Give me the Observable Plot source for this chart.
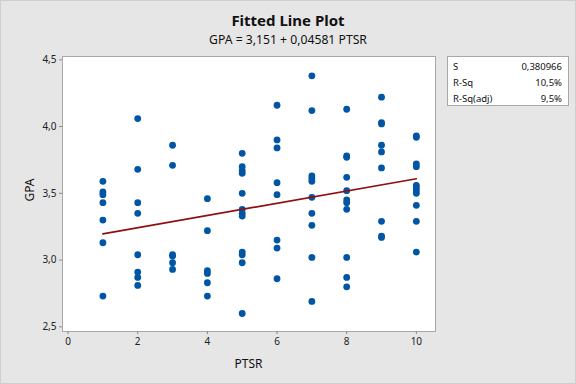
<!DOCTYPE html>
<html>
<head>
<meta charset="utf-8">
<script src="https://cdn.jsdelivr.net/npm/d3@7"></script>
<script src="https://cdn.jsdelivr.net/npm/@observablehq/plot@0.6"></script>
<style>
  html, body { margin: 0; padding: 0; background: #e6e6e6; }
  #chart { width: 576px; height: 384px; }
</style>
</head>
<body>
<div id="chart"></div>
<script>
// ---- Data ----
const ptsrLevels = [1, 2, 3, 4, 5, 6, 7, 8, 9, 10];
const gpaByPtsr = [
  [3.59, 3.51, 3.49, 3.43, 3.30, 3.13, 2.73],
  [4.06, 3.68, 3.43, 3.35, 3.04, 2.91, 2.87, 2.81],
  [3.86, 3.71, 3.04, 3.03, 2.98, 2.93],
  [3.46, 3.22, 2.92, 2.90, 2.83, 2.73],
  [3.80, 3.70, 3.67, 3.65, 3.50, 3.38, 3.35, 3.33, 3.06, 3.04, 2.98, 2.60],
  [4.16, 3.90, 3.84, 3.58, 3.49, 3.15, 3.09, 2.86],
  [4.38, 4.12, 3.63, 3.61, 3.59, 3.47, 3.35, 3.26, 3.02, 2.69],
  [4.13, 3.78, 3.77, 3.62, 3.52, 3.45, 3.43, 3.38, 3.02, 2.87, 2.80],
  [4.22, 4.03, 4.02, 3.86, 3.81, 3.69, 3.29, 3.18, 3.17],
  [3.93, 3.92, 3.72, 3.70, 3.56, 3.54, 3.52, 3.50, 3.41, 3.29, 3.06]
];
const fitIntercept = 3.151;
const fitSlope = 0.04581;
const fitRange = [1, 10];
const xTicks = [0, 2, 4, 6, 8, 10];
const yTicks = [2.5, 3.0, 3.5, 4.0, 4.5];
const titleText = "Fitted Line Plot";
const subtitleText = "GPA = 3,151 + 0,04581 PTSR";
const statLabels = ["S", "R-Sq", "R-Sq(adj)"];
const statValues = ["0,380966", "10,5%", "9,5%"];

// ---- Build tables ----
const points = [];
ptsrLevels.forEach((p, i) => gpaByPtsr[i].forEach(g => points.push({ptsr: p, gpa: g})));
const fitLine = fitRange.map(x => ({ptsr: x, gpa: fitIntercept + fitSlope * x}));
const comma = d => d.toFixed(1).replace(".", ",");

const W = 576, H = 384;
const mL = 62, mR = 141, mT = 56, mB = 53;
const font = "'Noto Sans', 'Open Sans', sans-serif";

const svg = Plot.plot({
  width: W, height: H,
  marginLeft: mL, marginRight: mR, marginTop: mT, marginBottom: mB,
  style: { background: "#e6e6e6", fontFamily: font, fontSize: "10px", color: "#222" },
  x: { domain: [-0.16, 10.55] },
  y: { domain: [2.465, 4.525] },
  marks: [
    Plot.frame({ fill: "white", stroke: "#a8a8a8", strokeWidth: 1 }),
    Plot.axisX({ ticks: xTicks, tickSize: 3, tickPadding: 3, label: null, stroke: "#888", tickFormat: d => String(d) }),
    Plot.axisY({ ticks: yTicks, tickSize: 3, tickPadding: 3, label: null, stroke: "#888", tickFormat: comma }),
    Plot.dot(points, { x: "ptsr", y: "gpa", r: 3.4, fill: "#0055a5", stroke: "none" }),
    Plot.line(fitLine, { x: "ptsr", y: "gpa", stroke: "#8e0f12", strokeWidth: 1.7 })
  ]
});

const s = d3.select(svg);
// Title and subtitle
s.append("text").attr("x", W / 2).attr("y", 26).attr("text-anchor", "middle")
  .attr("font-family", font).attr("font-size", 15).attr("font-weight", "bold").attr("fill", "#111")
  .text(titleText);
s.append("text").attr("x", W / 2).attr("y", 43.5).attr("text-anchor", "middle")
  .attr("font-family", font).attr("font-size", 12.2).attr("font-weight", "normal").attr("fill", "#111")
  .text(subtitleText);
// Axis labels
const fx = (mL + (W - mR)) / 2;
s.append("text").attr("x", fx).attr("y", 367.5).attr("text-anchor", "middle")
  .attr("font-family", font).attr("font-size", 12).attr("fill", "#111").text("PTSR");
s.append("text").attr("transform", `translate(34,190) rotate(-90)`).attr("text-anchor", "middle")
  .attr("font-family", font).attr("font-size", 12).attr("fill", "#111").text("GPA");
// Stats box
const bx = 447, by = 56, bw = 121, bh = 49;
s.append("rect").attr("x", bx + 0.5).attr("y", by + 0.5).attr("width", bw).attr("height", bh)
  .attr("fill", "white").attr("stroke", "#a8a8a8");
statLabels.forEach((lab, i) => {
  const yy = 70 + i * 16;
  s.append("text").attr("x", bx + 6).attr("y", yy).attr("text-anchor", "start").attr("font-family", font)
    .attr("font-size", 9.5).attr("fill", "#111").text(lab);
  s.append("text").attr("x", bx + bw - 6).attr("y", yy).attr("text-anchor", "end").attr("font-family", font)
    .attr("font-size", 9.5).attr("fill", "#111").text(statValues[i]);
});
// Outer border
s.append("rect").attr("x", 0.5).attr("y", 0.5).attr("width", W - 1).attr("height", H - 1)
  .attr("fill", "none").attr("stroke", "#cfcfcf");

document.getElementById("chart").appendChild(svg);
</script>
</body>
</html>
